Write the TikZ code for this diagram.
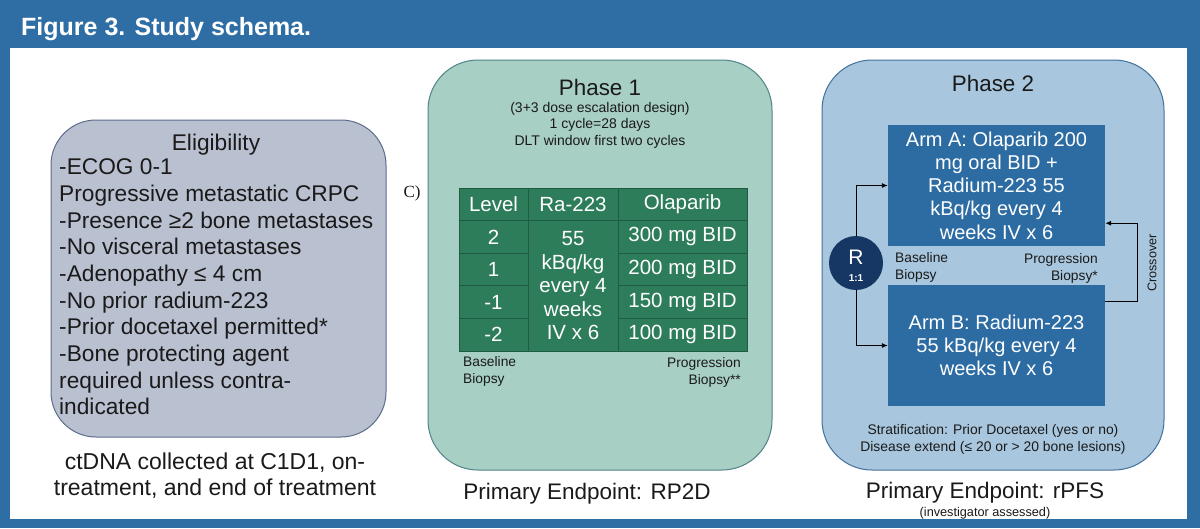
\documentclass[tikz,border=0pt]{standalone}
\usepackage{fontspec}
\setmainfont{Liberation Sans}
\newfontfamily\serifc{Liberation Serif}
\usetikzlibrary{arrows.meta}
\definecolor{bgblue}{HTML}{2F6EA5}
\definecolor{eligfill}{HTML}{B9C0D0}
\definecolor{eligdraw}{HTML}{5C6D8C}
\definecolor{ponefill}{HTML}{A8CFC4}
\definecolor{ponedraw}{HTML}{4F8387}
\definecolor{ptwofill}{HTML}{A8C6DD}
\definecolor{ptwodraw}{HTML}{41709B}
\definecolor{tabgreen}{HTML}{2E7D5A}
\definecolor{tabline}{HTML}{1F5B41}
\definecolor{armblue}{HTML}{2C6CA3}
\definecolor{navy}{HTML}{163663}
\definecolor{txt}{HTML}{1A1A1A}
\begin{document}
\begin{tikzpicture}[x=1pt,y=-1pt,
  phasebox/.style={draw, line width=1pt, rounded corners=50pt, inner sep=0pt},
  cell/.style={draw=tabline, fill=tabgreen, line width=0.8pt, text=white, inner sep=0pt,
     font=\fontsize{20.5}{23.5}\selectfont, align=center},
  armbox/.style={fill=armblue, text=white, inner sep=0pt, minimum width=217pt, minimum height=121pt,
     font=\fontsize{20}{23.3}\selectfont, align=center},
  small/.style={font=\fontsize{13.8}{17}\selectfont, text=txt, inner sep=0pt},
  bigtxt/.style={font=\fontsize{22.7}{26.7}\selectfont, text=txt, inner sep=0pt},
  endpt/.style={font=\fontsize{22.5}{26}\selectfont, text=txt, inner sep=0pt},
  arr/.style={-{Latex[length=6pt,width=5pt]}, line width=0.9pt, draw=black}
]
\useasboundingbox (0,0) rectangle (1200,528);
% background
\fill[bgblue] (0,0) rectangle (1200,528);
\fill[white] (10,48) rectangle (1187,519);
\node[anchor=base west, text=white, inner sep=0pt, font=\bfseries\fontsize{25}{29}\selectfont] (title) at (21,35) {Figure 3. Study schema.};

% Eligibility
\node[phasebox, draw=eligdraw, fill=eligfill, rounded corners=45pt, minimum width=335pt, minimum height=317pt] (elig) at (218.5,278.5) {};
\node[bigtxt, anchor=base] (eligt) at (216,150) {Eligibility};
\node[bigtxt, anchor=west, align=left] (eligl) at (59,287) {-ECOG 0-1\\Progressive metastatic CRPC\\-Presence ≥2 bone metastases\\-No visceral metastases\\-Adenopathy ≤ 4 cm\\-No prior radium-223\\-Prior docetaxel permitted*\\-Bone protecting agent\\required unless contra-\\indicated};
\node[font=\serifc\fontsize{17}{19}\selectfont, text=txt, inner sep=0pt] (c) at (412,193) {C)};
\node[font=\fontsize{23}{26}\selectfont, text=txt, inner sep=0pt, anchor=north, align=center] (ctdna) at (215,453) {ctDNA collected at C1D1, on-\\treatment, and end of treatment};

% Phase 1
\node[phasebox, draw=ponedraw, fill=ponefill, minimum width=344pt, minimum height=410pt] (p1) at (600,265) {};
\node[font=\fontsize{22.4}{26}\selectfont, text=txt, inner sep=0pt, anchor=base] (p1t) at (600,95) {Phase 1};
\node[small, font=\fontsize{14}{16.5}\selectfont, align=center, anchor=north] (p1s) at (600,102) {(3+3 dose escalation design)\\1 cycle=28 days\\DLT window first two cycles};
% table
\node[cell, minimum width=69pt, minimum height=32.6pt] (h1) at (493.5,204.3) {Level};
\node[cell, minimum width=90pt, minimum height=32.6pt] (h2) at (573,204.3) {Ra-223};
\node[cell, minimum width=129pt, minimum height=32.6pt] (h3) at (682.5,204.3) {Olaparib};
\node[cell, minimum width=69pt, minimum height=32.6pt] (l1) at (493.5,236.9) {2};
\node[cell, minimum width=69pt, minimum height=32.6pt] (l2) at (493.5,269.5) {1};
\node[cell, minimum width=69pt, minimum height=32.6pt] (l3) at (493.5,302.1) {-1};
\node[cell, minimum width=69pt, minimum height=32.6pt] (l4) at (493.5,334.7) {-2};
\node[cell, minimum width=90pt, minimum height=130.4pt] (ra) at (573,285.8) {55\\kBq/kg\\every 4\\weeks\\IV x 6};
\node[cell, minimum width=129pt, minimum height=32.6pt] (o1) at (682.5,236.9) {300 mg BID};
\node[cell, minimum width=129pt, minimum height=32.6pt] (o2) at (682.5,269.5) {200 mg BID};
\node[cell, minimum width=129pt, minimum height=32.6pt] (o3) at (682.5,302.1) {150 mg BID};
\node[cell, minimum width=129pt, minimum height=32.6pt] (o4) at (682.5,334.7) {100 mg BID};
\node[small, align=left, anchor=north west] (p1bb) at (463,356) {Baseline\\Biopsy};
\node[small, align=right, anchor=north east] (p1pb) at (741,357) {Progression\\Biopsy**};
\node[endpt, anchor=base] (p1e) at (587,499) {Primary Endpoint: RP2D};

% Phase 2
\node[phasebox, draw=ptwodraw, fill=ptwofill, minimum width=342pt, minimum height=410pt] (p2) at (993,265) {};
\node[font=\fontsize{22.4}{26}\selectfont, text=txt, inner sep=0pt, anchor=base] (p2t) at (993,91) {Phase 2};
\node[armbox] (armA) at (996.5,185.5) {Arm A: Olaparib 200\\mg oral BID +\\Radium-223 55\\kBq/kg every 4\\weeks IV x 6};
\node[armbox] (armB) at (996.5,345.5) {Arm B: Radium-223\\55 kBq/kg every 4\\weeks IV x 6};
\node[circle, fill=navy, minimum size=54pt, inner sep=0pt] (R) at (856,263) {};
\node[text=white, inner sep=0pt, font=\fontsize{21}{24}\selectfont] (Rt) at (856,257) {R};
\node[text=white, inner sep=0pt, font=\bfseries\fontsize{10}{12}\selectfont] (Rr) at (856,278) {1:1};
\draw[arr] (R) |- (armA.west);
\draw[arr] (R) |- (armB.west);
\draw[arr] ([yshift=-17pt]armB.north east) -- ++(32,0) coordinate (cx) |- ([yshift=23pt]armA.south east);
\node[small, font=\fontsize{12.6}{14}\selectfont, rotate=90] (cross) at (1152,263) {Crossover};
\node[small, align=left, anchor=north west] (p2bb) at (895,252) {Baseline\\Biopsy};
\node[small, align=right, anchor=north east] (p2pb) at (1098,253) {Progression\\Biopsy*};
\node[small, font=\fontsize{13.9}{17}\selectfont, align=center, anchor=north] (strat) at (993,424) {Stratification: Prior Docetaxel (yes or no)\\Disease extend (≤ 20 or > 20 bone lesions)};
\node[endpt, anchor=base] (p2e) at (985,498) {Primary Endpoint: rPFS};
\node[small, font=\fontsize{12.7}{14}\selectfont, anchor=base] (inv) at (985,516) {(investigator assessed)};
\end{tikzpicture}
\end{document}
